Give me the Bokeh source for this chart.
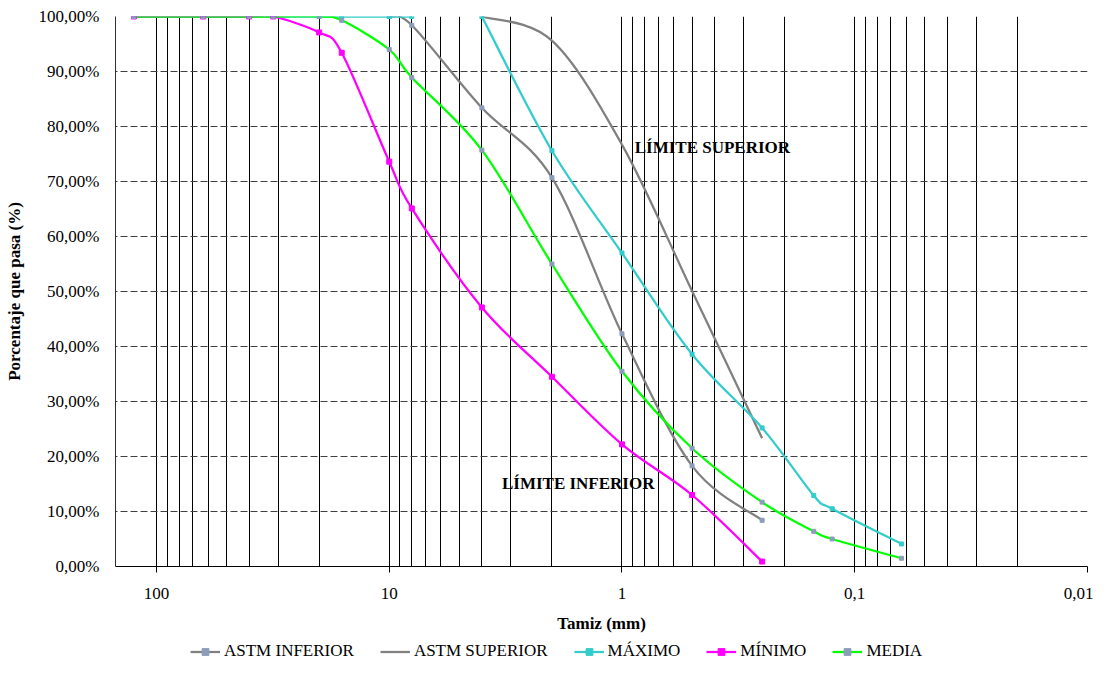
import numpy as np
from bokeh.plotting import figure
from bokeh.layouts import column
from bokeh.models import (Range1d, FixedTicker, Label, Legend, LegendItem,
                          ColumnDataSource, CustomJSTickFormatter)
from bokeh.embed import file_html
from bokeh.resources import INLINE

# ---------------- data ----------------
sieve_inf = [10, 8, 4, 2, 1, 0.5, 0.25]
astm_inf = [100, 98.4, 83.4, 70.7, 42.3, 18.3, 8.4]

sieve_sup = [4, 2, 1, 0.5, 0.25]
astm_sup = [100, 95.6, 76.7, 50.1, 23.3]

sieve_max = [125, 63, 40, 31.5, 20, 16, 10, 8, 6.3, 4, 2, 1, 0.5, 0.25, 0.15, 0.125, 0.063]
maximo = [100, 100, 100, 100, 100, 100, 100, 100, np.nan, 100, 75.6, 57.0, 38.6, 25.2, 12.9, 10.5, 4.1]

sieve_min = [125, 63, 40, 31.5, 20, 16, 10, 8, 4, 2, 1, 0.5, 0.25]
minimo = [100, 100, 100, 100, 97.1, 93.4, 73.6, 65.1, 47.1, 34.5, 22.2, 13.0, 0.9]

sieve_media = [125, 63, 40, 31.5, 20, 16, 10, 8, 4, 2, 1, 0.5, 0.25, 0.15, 0.125, 0.063]
media = [100, 100, 100, 100, 100, 99.3, 94.0, 88.9, 75.7, 55.0, 35.5, 21.5, 11.7, 6.4, 5.0, 1.5]

x_major_ticks = [100, 10, 1, 0.1, 0.01]
y_ticks = [0, 10, 20, 30, 40, 50, 60, 70, 80, 90, 100]
series_names = ["ASTM INFERIOR", "ASTM SUPERIOR", "MÁXIMO", "MÍNIMO", "MEDIA"]
label_sup = "LÍMITE SUPERIOR"
label_inf = "LÍMITE INFERIOR"

# sieve grid lines (1..9 x decade)
grid_x = [m * 10.0 ** k for k in range(-2, 3) for m in range(1, 10)
          if 0.01 <= m * 10.0 ** k <= 100]

FONT = "Liberation Serif"


def smooth_source(xs, ys):
    """Bezier segments (Excel-like smoothed line) between consecutive data points,
    control points computed in (log10 x, y) space."""
    runs, cur = [], []
    for x, y in zip(xs, ys):
        if y is None or (isinstance(y, float) and np.isnan(y)):
            if cur:
                runs.append(cur)
            cur = []
        else:
            cur.append((np.log10(x), float(y)))
    if cur:
        runs.append(cur)
    d = dict(x0=[], y0=[], x1=[], y1=[], cx0=[], cy0=[], cx1=[], cy1=[])
    t = 1.0 / 6.0
    for run in runs:
        n = len(run)
        for i in range(n - 1):
            a = run[i - 1] if i > 0 else run[i]
            b = run[i]
            c = run[i + 1]
            e = run[i + 2] if i + 2 < n else run[i + 1]
            c1 = (b[0] + (c[0] - a[0]) * t, b[1] + (c[1] - a[1]) * t)
            c2 = (c[0] - (e[0] - b[0]) * t, c[1] - (e[1] - b[1]) * t)
            d["x0"].append(10 ** b[0]); d["y0"].append(b[1])
            d["x1"].append(10 ** c[0]); d["y1"].append(c[1])
            d["cx0"].append(10 ** c1[0]); d["cy0"].append(c1[1])
            d["cx1"].append(10 ** c2[0]); d["cy1"].append(c2[1])
    return ColumnDataSource(d)


p = figure(frame_width=972, frame_height=550, x_axis_type="log",
           x_range=Range1d(150, 0.01), y_range=Range1d(0, 100),
           output_backend="svg", toolbar_location=None, title=None,
           min_border_left=115, min_border_right=6, min_border_top=16,
           min_border_bottom=72)
p.outline_line_color = None
p.background_fill_color = "white"
p.border_fill_color = "white"

# grids
p.xgrid.ticker = FixedTicker(ticks=grid_x)
p.xgrid.grid_line_color = "#000000"
p.xgrid.grid_line_width = 1
p.ygrid.ticker = FixedTicker(ticks=y_ticks[1:])
p.ygrid.grid_line_color = "#404040"
p.ygrid.grid_line_dash = "7 3"
p.ygrid.grid_line_width = 1

# x axis
p.xaxis.ticker = FixedTicker(ticks=x_major_ticks)
p.xaxis.formatter = CustomJSTickFormatter(code="return tick.toString().replace('.', ',');")
p.xaxis.axis_label = "Tamiz (mm)"
p.xaxis.axis_label_text_font = FONT
p.xaxis.axis_label_text_font_style = "bold"
p.xaxis.axis_label_text_font_size = "17px"
p.xaxis.axis_label_text_color = "black"
p.xaxis.axis_label_standoff = 12
p.xaxis.major_label_text_font = FONT
p.xaxis.major_label_text_font_size = "17px"
p.xaxis.major_label_text_color = "black"
p.xaxis.major_label_standoff = 15
p.xaxis.major_tick_out = 6
p.xaxis.major_tick_in = 0
p.xaxis.minor_tick_out = 0
p.xaxis.minor_tick_in = 0
p.xaxis.axis_line_color = "black"
p.xaxis.major_tick_line_color = "black"

# y axis
p.yaxis.ticker = FixedTicker(ticks=y_ticks)
p.yaxis.formatter = CustomJSTickFormatter(code="return tick.toFixed(2).replace('.', ',') + '%';")
p.yaxis.axis_label = "Porcentaje que pasa (%)"
p.yaxis.axis_label_text_font = FONT
p.yaxis.axis_label_text_font_style = "bold"
p.yaxis.axis_label_text_font_size = "17px"
p.yaxis.axis_label_text_color = "black"
p.yaxis.axis_label_standoff = 12
p.yaxis.major_label_text_font = FONT
p.yaxis.major_label_text_font_size = "17px"
p.yaxis.major_label_text_color = "black"
p.yaxis.major_label_standoff = 16
p.yaxis.major_tick_out = 0
p.yaxis.major_tick_in = 0
p.yaxis.minor_tick_out = 0
p.yaxis.minor_tick_in = 0
p.yaxis.axis_line_color = "#303030"

GRAY = "#808080"
CYAN = "#33CCCC"
MAGENTA = "#FF00FF"
GREEN = "#00FF00"
MARK = "#8C9DBA"
LW = 2.25

BZ = dict(x0="x0", y0="y0", x1="x1", y1="y1", cx0="cx0", cy0="cy0", cx1="cx1", cy1="cy1")

src_inf = smooth_source(sieve_inf, astm_inf)
src_sup = smooth_source(sieve_sup, astm_sup)
src_max = smooth_source(sieve_max, maximo)
src_min = smooth_source(sieve_min, minimo)
src_med = smooth_source(sieve_media, media)
max_x = [x for x, y in zip(sieve_max, maximo) if not np.isnan(y)]
max_y = [y for y in maximo if not np.isnan(y)]


def draw_series(fig):
    r = {}
    r["inf"] = fig.bezier(source=src_inf, line_color=GRAY, line_width=LW, **BZ)
    r["sup"] = fig.bezier(source=src_sup, line_color=GRAY, line_width=LW, **BZ)
    r["max"] = fig.bezier(source=src_max, line_color=CYAN, line_width=LW, **BZ)
    r["min"] = fig.bezier(source=src_min, line_color=MAGENTA, line_width=LW, **BZ)
    r["med"] = fig.bezier(source=src_med, line_color=GREEN, line_width=LW, **BZ)
    r["m_inf"] = fig.scatter(sieve_inf, astm_inf, marker="square", size=4, fill_color=MARK, line_color=MARK)
    r["m_max"] = fig.scatter(max_x, max_y, marker="square", size=4, fill_color=CYAN, line_color=CYAN)
    r["m_min"] = fig.scatter(sieve_min, minimo, marker="square", size=5, fill_color=MAGENTA, line_color=MAGENTA)
    r["m_med"] = fig.scatter(sieve_media, media, marker="square", size=4, fill_color=MARK, line_color=MARK)
    return r


draw_series(p)

# annotations
p.add_layout(Label(x=0.882, y=76.1, text=label_sup, text_font=FONT, text_font_style="bold",
                   text_font_size="17px", text_baseline="middle", text_align="left",
                   text_color="black"))
p.add_layout(Label(x=3.28, y=15.1, text=label_inf, text_font=FONT, text_font_style="bold",
                   text_font_size="17px", text_baseline="middle", text_align="left",
                   text_color="black"))

# legend strip below the chart (series re-drawn out of its view, only used as legend keys)
q = figure(width=1093, height=23, x_axis_type="log", x_range=Range1d(150, 0.01),
           y_range=Range1d(-300, -200), output_backend="svg", toolbar_location=None,
           title=None, x_axis_location=None, y_axis_location=None,
           min_border_left=0, min_border_right=0, min_border_top=0, min_border_bottom=0)
q.outline_line_color = None
q.grid.visible = False
q.background_fill_color = "white"
q.border_fill_color = "white"
rq = draw_series(q)

legend = Legend(items=[
    LegendItem(label=series_names[0], renderers=[rq["inf"], rq["m_inf"]]),
    LegendItem(label=series_names[1], renderers=[rq["sup"]]),
    LegendItem(label=series_names[2], renderers=[rq["max"], rq["m_max"]]),
    LegendItem(label=series_names[3], renderers=[rq["min"], rq["m_min"]]),
    LegendItem(label=series_names[4], renderers=[rq["med"], rq["m_med"]]),
], orientation="horizontal", location=(75, 0), glyph_width=30, glyph_height=17,
    label_height=17, label_standoff=4, spacing=26, padding=0, margin=0,
    border_line_color=None, background_fill_alpha=0,
    label_text_font=FONT, label_text_font_size="17px", label_text_color="black")
q.add_layout(legend, "center")

layout = column(p, q, spacing=0)
open("out.html", "w").write(file_html(layout, INLINE))
